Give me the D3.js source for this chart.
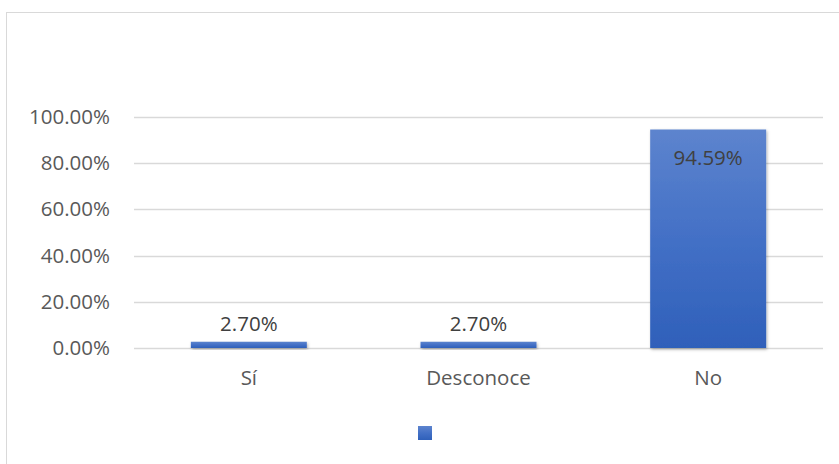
<!DOCTYPE html>
<html>
<head>
<meta charset="utf-8">
<script src="https://cdn.jsdelivr.net/npm/d3@7"></script>
<style>
  body { margin: 0; background: #fff; }
  text { font-family: "Open Sans", sans-serif; }
</style>
</head>
<body>
<div id="chart"></div>
<script>
// chart data
const categories = ["Sí", "Desconoce", "No"];
const values = [0.027, 0.027, 0.9459];
const valueLabels = ["2.70%", "2.70%", "94.59%"];
const yTicks = [0, 0.2, 0.4, 0.6, 0.8, 1.0];

const width = 839, height = 464;
const plot = {left: 134, right: 823, top: 117, bottom: 348};
const fontSize = 20.5;

const svg = d3.select("#chart").append("svg")
    .attr("width", width)
    .attr("height", height);

// gradient + shadow for the bars
const defs = svg.append("defs");
const grad = defs.append("linearGradient")
    .attr("id", "barGrad")
    .attr("x1", 0).attr("y1", 0).attr("x2", 0).attr("y2", 1);
grad.append("stop").attr("offset", "0%").attr("stop-color", "#5d84ce");
grad.append("stop").attr("offset", "50%").attr("stop-color", "#4370c6");
grad.append("stop").attr("offset", "100%").attr("stop-color", "#2f60ba");

const shadow = defs.append("filter").attr("id", "shadow")
    .attr("x", "-10%").attr("y", "-10%").attr("width", "130%").attr("height", "130%");
shadow.append("feDropShadow")
    .attr("dx", 1).attr("dy", 1.5).attr("stdDeviation", 1.5)
    .attr("flood-color", "#000").attr("flood-opacity", 0.3);

// outer chart border
svg.append("rect")
    .attr("x", 6.5).attr("y", 12.5)
    .attr("width", 900).attr("height", 500)
    .attr("fill", "none")
    .attr("stroke", "#d9d9d9");

const xScale = d3.scaleBand()
    .domain(categories)
    .range([plot.left, plot.right])
    .padding(0);

const yScale = d3.scaleLinear()
    .domain([0, 1])
    .range([plot.bottom, plot.top]);

const barW = xScale.bandwidth() * 0.505;

// gridlines
svg.append("g")
  .selectAll("line")
  .data(yTicks)
  .join("line")
    .attr("x1", plot.left)
    .attr("x2", plot.right)
    .attr("y1", d => Math.round(yScale(d)) + 0.5)
    .attr("y2", d => Math.round(yScale(d)) + 0.5)
    .attr("stroke", "#d9d9d9")
    .attr("stroke-width", 1.3);

// y axis labels
const yAxis = d3.axisLeft(yScale)
    .tickValues(yTicks)
    .tickFormat(d3.format(".2%"))
    .tickSize(0)
    .tickPadding(0);

svg.append("g")
    .attr("transform", "translate(110,0)")
    .call(yAxis)
    .call(g => g.select(".domain").remove())
    .selectAll("text")
    .attr("font-family", "'Open Sans', sans-serif")
    .attr("font-size", fontSize)
    .attr("fill", "#595959");

// bars
svg.append("g")
  .selectAll("rect")
  .data(values)
  .join("rect")
    .attr("x", (d, i) => xScale(categories[i]) + (xScale.bandwidth() - barW) / 2)
    .attr("y", d => yScale(d))
    .attr("width", barW)
    .attr("height", d => yScale(0) - yScale(d))
    .attr("fill", "url(#barGrad)")
    .attr("filter", "url(#shadow)");

// value labels
svg.append("g")
  .selectAll("text")
  .data(values)
  .join("text")
    .attr("x", (d, i) => xScale(categories[i]) + xScale.bandwidth() / 2)
    .attr("y", d => d > 0.5 ? yScale(d) + 36 : yScale(d) - 11)
    .attr("text-anchor", "middle")
    .attr("font-size", fontSize)
    .attr("fill", "#404040")
    .text((d, i) => valueLabels[i]);

// x axis labels
const xAxis = d3.axisBottom(xScale).tickSize(0).tickPadding(0);
svg.append("g")
    .attr("transform", `translate(0,${plot.bottom + 22})`)
    .call(xAxis)
    .call(g => g.select(".domain").remove())
    .selectAll("text")
    .attr("font-family", "'Open Sans', sans-serif")
    .attr("font-size", fontSize)
    .attr("fill", "#595959");

// legend marker (no text)
svg.append("rect")
    .attr("x", 418).attr("y", 426)
    .attr("width", 14).attr("height", 14)
    .attr("fill", "url(#barGrad)");
</script>
</body>
</html>
